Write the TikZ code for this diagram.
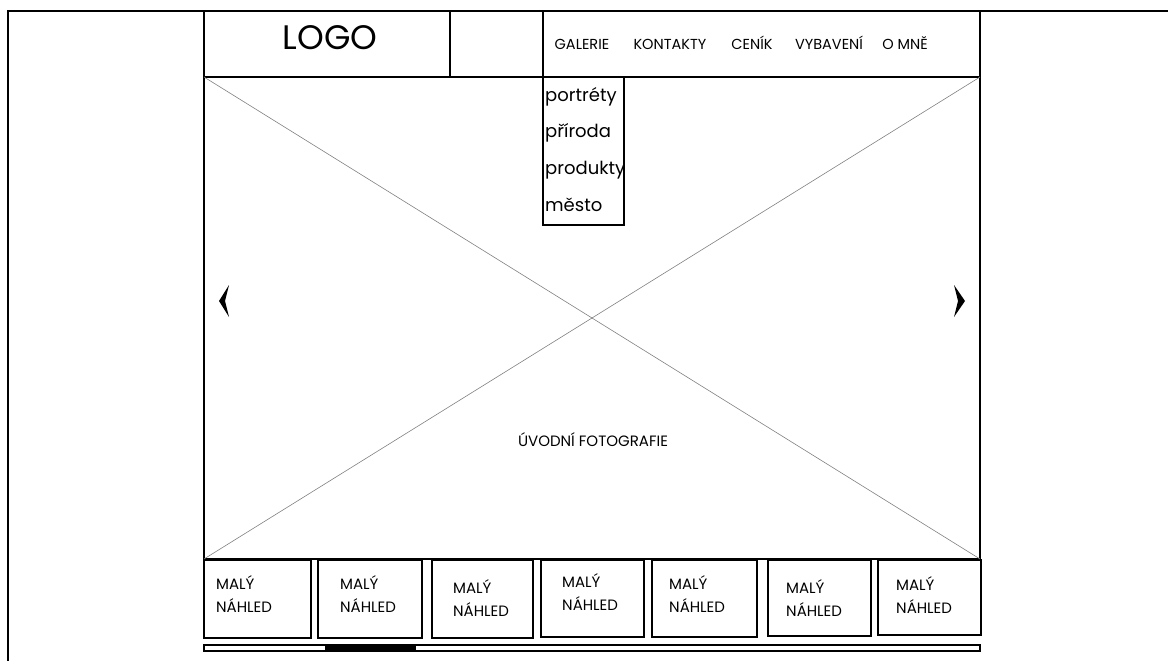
\documentclass[tikz,border=0pt]{standalone}
\usepackage{fontspec}
\setmainfont{Poppins}
\usetikzlibrary{positioning}

\tikzset{
	frame/.style={draw, line width=1.8pt},
	panel/.style={draw, line width=1.8pt, anchor=north west, inner sep=0pt, outer sep=0pt},
	cross/.style={draw=gray, line width=0.6pt},
	navitem/.style={font=\fontsize{14.5}{17}\selectfont, inner sep=0pt, anchor=base},
	menuitem/.style={font=\fontsize{18}{21}\selectfont, inner sep=0pt, anchor=base west},
	thumbtext/.style={font=\fontsize{15}{17}\selectfont, inner sep=0pt, anchor=base west},
}

\begin{document}
\begin{tikzpicture}[x=1pt, y=-1pt]
	\useasboundingbox (0,0) rectangle (1168,661);

	% Instances/Symbols:
	\node[panel, minimum width=246pt, minimum height=66pt] (logobox) at (204,11) {};
	\node[panel, minimum width=93pt, minimum height=66pt] (gapbox) at (450,11) {};
	\node[panel, minimum width=437pt, minimum height=66pt] (navbox) at (543,11) {};
	\node[panel, minimum width=776pt, minimum height=482pt] (hero) at (204,77) {};
	\node[panel, fill=white, minimum width=81pt, minimum height=148pt] (menu) at (543,77) {};

	\foreach \n/\xa/\xb/\yb/\tx/\ty in {1/204/311/638/12/0, 2/318/422/638/22/0, 3/432/533/638/21/4, 4/541/644/637/21/-2, 5/652/757/637/17/0, 6/768/871/636/18/4, 7/878/981/635/18/1}{
		\node[panel, minimum width={(\xb-\xa)*1pt}, minimum height={(\yb-560)*1pt}] (thumb\n) at (\xa,560) {};
		\node[thumbtext] (small\n) at (\xa+\tx,589+\ty) {MALÝ};
		\node[thumbtext] (preview\n) at (\xa+\tx,612+\ty) {NÁHLED};
	}

	\node[panel, line width=1.2pt, minimum width=776pt, minimum height=6pt] (scrollbar) at (204,645) {};
	\node[panel, fill=black, line width=1.2pt, minimum width=89pt, minimum height=6pt] (scrollthumb) at (326,645) {};

	% Lines:
	\draw[frame] (8,661) |- (1168,11);
	\draw[cross] (hero.north west) -- (hero.south east);
	\draw[cross] (hero.north east) -- (hero.south west);

	% Arrows
	\fill (229,285) -- (219,301) -- (229,317) -- (225,301) -- cycle;
	\fill (954,285) -- (965,301) -- (954,317) -- (958,301) -- cycle;

	% Labels
	\node[font=\fontsize{34}{37}\selectfont, inner sep=0pt, anchor=base] (logo) at (330,50) {LOGO};

	\node[navitem] (gallery) at (582,50) {GALERIE};
	\node[navitem] (contacts) at (670,50) {KONTAKTY};
	\node[navitem] (prices) at (752,50) {CENÍK};
	\node[navitem] (gear) at (829,50) {VYBAVENÍ};
	\node[navitem] (aboutme) at (905,50) {O MNĚ};

	\node[menuitem] (portraits) at (545,101) {portréty};
	\node[menuitem] (nature) at (545,137) {příroda};
	\node[menuitem] (products) at (545,174) {produkty};
	\node[menuitem] (city) at (545,211) {město};

	\node[thumbtext, anchor=base] (herotext) at (593,446) {ÚVODNÍ FOTOGRAFIE};

\end{tikzpicture}
\end{document}
